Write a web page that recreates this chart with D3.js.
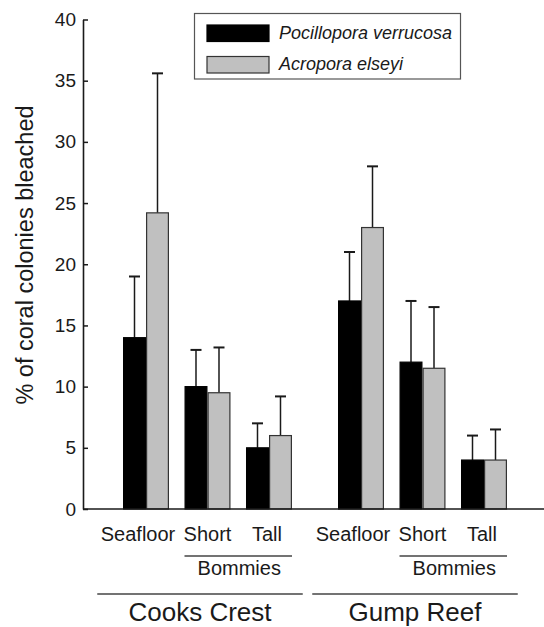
<!DOCTYPE html>
<html>
<head>
<meta charset="utf-8">
<script src="https://cdn.jsdelivr.net/npm/d3@7"></script>
<style>
  body { margin: 0; background: #fff; }
  svg { display: block; font-family: "Liberation Sans", Arial, Helvetica, sans-serif; }
</style>
</head>
<body>
<script>
// ---- data ----
const sites = ["Cooks Crest", "Gump Reef"];
const habitats = ["Seafloor", "Short", "Tall"];
const bommieHabitats = ["Short", "Tall"];
const bommieLabel = "Bommies";
const species = ["Pocillopora verrucosa", "Acropora elseyi"];
// order: Cooks Seafloor, Short, Tall, Gump Seafloor, Short, Tall
const pocilloporaMean = [14, 10, 5, 17, 12, 4];
const pocilloporaErr  = [5, 3, 2, 4, 5, 2];
const acroporaMean    = [24.2, 9.5, 6, 23, 11.5, 4];
const acroporaErr     = [11.4, 3.7, 3.2, 5, 5, 2.5];
const yTicks = [0, 5, 10, 15, 20, 25, 30, 35, 40];
const yLabel = "% of coral colonies bleached";

const speciesColor = ["#000000", "#c0c0c0"];
const speciesStroke = ["#000000", "#333333"];

const W = 544, H = 627;
const svg = d3.select("body").append("svg").attr("width", W).attr("height", H);

const y = d3.scaleLinear().domain([0, 40]).range([509, 19.5]);
const xSite = d3.scaleBand().domain(sites).range([115.25, 514.75]).paddingInner(0.1419).paddingOuter(0);
const xHab = d3.scaleBand().domain(habitats).range([0, xSite.bandwidth()]).paddingInner(0.252).paddingOuter(0.126);
const xSp = d3.scaleBand().domain(species).range([0, xHab.bandwidth()]);

const means = [pocilloporaMean, acroporaMean];
const errs = [pocilloporaErr, acroporaErr];
const records = [];
sites.forEach((s, i) => habitats.forEach((h, j) => species.forEach((sp, k) => {
  const idx = i * habitats.length + j;
  records.push({site: s, hab: h, sp: sp, k: k, v: means[k][idx], e: errs[k][idx]});
})));
const bx = d => xSite(d.site) + xHab(d.hab) + xSp(d.sp);

// error bars (upper only)
const eb = svg.append("g").attr("stroke", "#1a1a1a");
eb.selectAll("line.v").data(records).join("line")
  .attr("x1", d => bx(d) + xSp.bandwidth() / 2).attr("x2", d => bx(d) + xSp.bandwidth() / 2)
  .attr("y1", d => y(d.v)).attr("y2", d => y(d.v + d.e)).attr("stroke-width", 1.5);
eb.selectAll("line.c").data(records).join("line")
  .attr("x1", d => bx(d) + xSp.bandwidth() / 2 - 5.5).attr("x2", d => bx(d) + xSp.bandwidth() / 2 + 5.5)
  .attr("y1", d => y(d.v + d.e)).attr("y2", d => y(d.v + d.e)).attr("stroke-width", 2);

// bars
svg.append("g").selectAll("rect").data(records).join("rect")
  .attr("x", d => bx(d) + 0.6).attr("width", xSp.bandwidth() - 1.2)
  .attr("y", d => y(d.v)).attr("height", d => y(0) - y(d.v))
  .attr("fill", d => speciesColor[d.k]).attr("stroke", d => speciesStroke[d.k]).attr("stroke-width", 1.2);

// baseline
svg.append("line").attr("x1", 83).attr("x2", 544).attr("y1", y(0)).attr("y2", y(0))
  .attr("stroke", "#1a1a1a").attr("stroke-width", 1.6);

// y axis
const ax = svg.append("g").attr("transform", "translate(83,0)")
  .call(d3.axisLeft(y).tickValues(yTicks).tickSizeInner(-5).tickSizeOuter(0).tickPadding(7));
ax.select(".domain").attr("stroke", "#1a1a1a").attr("stroke-width", 1.6);
ax.selectAll(".tick line").attr("stroke", "#1a1a1a").attr("stroke-width", 1.5);
ax.selectAll(".tick text").attr("font-size", 19).attr("fill", "#1a1a1a")
  .attr("font-family", "'Liberation Sans', Arial, Helvetica, sans-serif");

svg.append("text").attr("transform", "translate(33,255) rotate(-90)")
  .attr("text-anchor", "middle").attr("font-size", 23.5).attr("fill", "#1a1a1a").text(yLabel);

// habitat labels
const habLabels = [];
sites.forEach(s => habitats.forEach((h, j) => habLabels.push({site: s, hab: h, j: j})));
svg.append("g").selectAll("text").data(habLabels).join("text")
  .attr("x", d => xSite(d.site) + xHab(d.hab) + xHab.bandwidth() / 2 + (d.j === 0 ? -8 : (d.j === 2 ? -2 : 0)))
  .attr("y", 541).attr("text-anchor", "middle").attr("font-size", 20).attr("fill", "#1a1a1a")
  .text(d => d.hab);

// bommies bracket
sites.forEach(s => {
  const x1 = xSite(s) + xHab(bommieHabitats[0]);
  const x2 = xSite(s) + xHab(bommieHabitats[bommieHabitats.length - 1]) + xHab.bandwidth();
  svg.append("line").attr("x1", x1).attr("x2", x2).attr("y1", 556).attr("y2", 556)
    .attr("stroke", "#444").attr("stroke-width", 1.3);
  svg.append("text").attr("x", (x1 + x2) / 2 + 1).attr("y", 575).attr("text-anchor", "middle")
    .attr("font-size", 20).attr("fill", "#1a1a1a").text(bommieLabel);
});

// site brackets
sites.forEach(s => {
  const x1 = xSite(s) - 18;
  const x2 = xSite(s) + xSite.bandwidth() + 3;
  svg.append("line").attr("x1", x1).attr("x2", x2).attr("y1", 594).attr("y2", 594)
    .attr("stroke", "#444").attr("stroke-width", 1.3);
  svg.append("text").attr("x", (x1 + x2) / 2).attr("y", 621).attr("text-anchor", "middle")
    .attr("font-size", 26).attr("fill", "#1a1a1a").text(s);
});

// legend
const lg = svg.append("g");
lg.append("rect").attr("x", 194.5).attr("y", 13.5).attr("width", 266).attr("height", 65.5)
  .attr("fill", "#fff").attr("stroke", "#555").attr("stroke-width", 1.2);
species.forEach((sp, k) => {
  lg.append("rect").attr("x", 207).attr("y", 25 + k * 31.5).attr("width", 62).attr("height", 16.5)
    .attr("fill", speciesColor[k]).attr("stroke", speciesStroke[k]).attr("stroke-width", 1.2);
  lg.append("text").attr("x", 279).attr("y", 38.5 + k * 31.5).attr("font-size", 18)
    .attr("font-style", "italic").attr("fill", "#1a1a1a").text(sp);
});
</script>
</body>
</html>
